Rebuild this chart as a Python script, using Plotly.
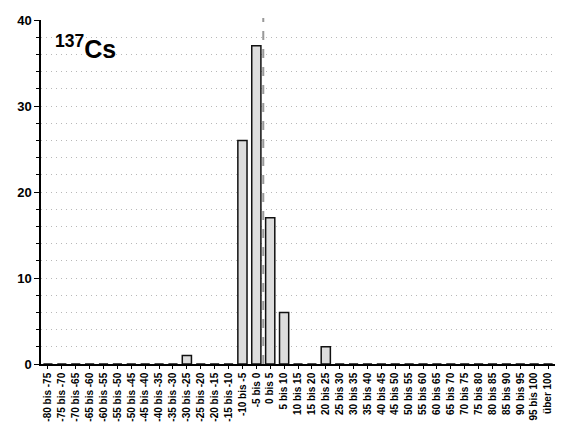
import plotly.graph_objects as go

categories = [f"{a} bis {a+5}" for a in range(-80, 100, 5)] + ["über 100"]
counts = {"-30 bis -25": 1, "-10 bis -5": 26, "-5 bis 0": 37, "0 bis 5": 17, "5 bis 10": 6, "20 bis 25": 2}
values = [counts.get(c, 0) for c in categories]

FONT = "Liberation Sans, Arial, sans-serif"

fig = go.Figure()
fig.add_trace(go.Bar(
    x=list(range(len(categories))), y=values,
    marker=dict(color="#dddddd", line=dict(color="#111111", width=1.5)),
    width=0.66,
))

# dashed reference line at 0 (between "-5 bis 0" and "0 bis 5")
fig.add_shape(type="line", xref="x", yref="paper", x0=15.5, x1=15.5, y0=0, y1=1.006,
              line=dict(color="#999999", width=2, dash="dash"))

fig.add_annotation(xref="paper", yref="paper", x=0.024, y=0.975, xanchor="left", yanchor="top",
                   text="<b><sup>137</sup>Cs</b>", showarrow=False,
                   font=dict(family=FONT, size=25, color="#000000"))

fig.update_layout(
    width=563, height=423,
    margin=dict(l=41, r=8, t=20, b=59, autoexpand=False),
    paper_bgcolor="white", plot_bgcolor="white",
    showlegend=False, bargap=0.34,
    font=dict(family=FONT, color="#000000"),
)
fig.update_xaxes(
    automargin=False,
    tickmode="array", tickvals=list(range(len(categories))), ticktext=categories,
    range=[-0.5, len(categories) - 0.5], tickangle=-90,
    tickfont=dict(family=FONT, size=10, weight="bold"),
    showline=True, linecolor="#000000", linewidth=1.5,
    ticks="outside", ticklen=3, tickcolor="#000000",
    showgrid=False, zeroline=False,
)
fig.update_yaxes(
    automargin=False,
    range=[0, 40], tickvals=[0, 10, 20, 30, 40],
    tickfont=dict(family=FONT, size=13, weight="bold"),
    showline=True, linecolor="#000000", linewidth=1.5,
    ticks="outside", ticklen=5, tickcolor="#000000",
    showgrid=True, gridcolor="#b8b8b8", griddash="1px,4px", gridwidth=1,
    minor=dict(dtick=2, showgrid=True, gridcolor="#b8b8b8", griddash="1px,4px", gridwidth=1,
               ticks="outside", ticklen=3, tickcolor="#000000"),
    zeroline=False,
)

fig.write_html("out.html", config={"displayModeBar": False},
               post_script="document.body.style.margin='0';document.body.style.overflow='hidden';")
